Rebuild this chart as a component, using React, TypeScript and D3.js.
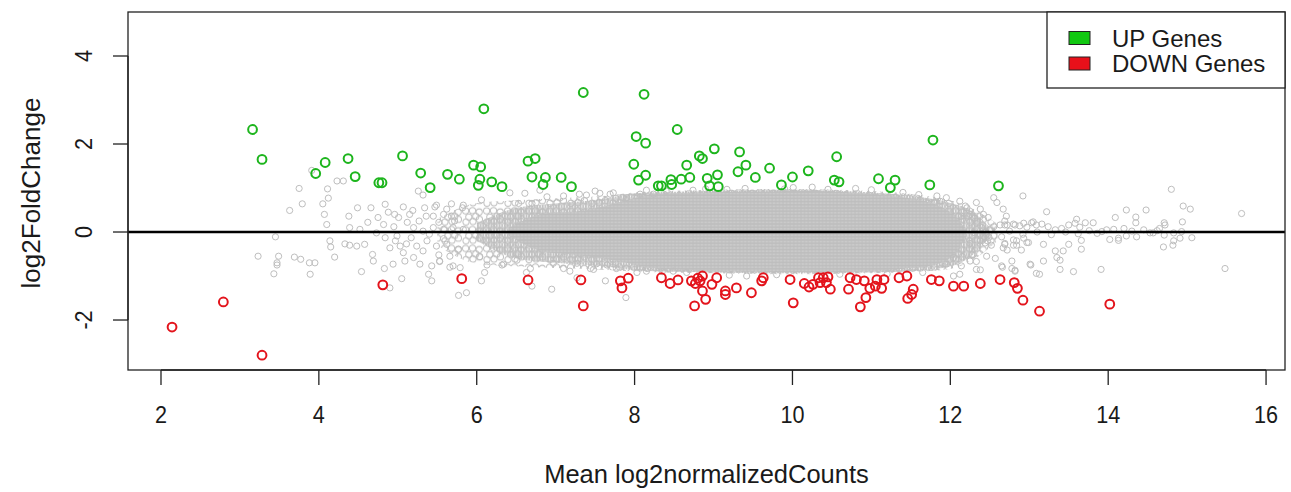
import React from "react";
import * as d3 from "d3";

const W = 1291;
const H = 492;

const xTicks = [2, 4, 6, 8, 10, 12, 14, 16];
const yTicks = [-2, 0, 2, 4];
const legendLabels = ["UP Genes", "DOWN Genes"];

const upPoints: [number, number][] = [
  [3.16, 2.33], [3.28, 1.65], [3.96, 1.33], [4.08, 1.58], [4.37, 1.67], [4.46, 1.26], [4.76, 1.12], [4.8, 1.12],
  [5.06, 1.73], [5.29, 1.34], [5.41, 1.01], [5.63, 1.31], [5.78, 1.2], [5.96, 1.52], [6.05, 1.48], [6.04, 1.2],
  [6.02, 1.06], [6.09, 2.8], [6.19, 1.14], [6.32, 1.03], [6.65, 1.61], [6.74, 1.67], [6.7, 1.25], [6.87, 1.24],
  [6.84, 1.08], [7.07, 1.24], [7.2, 1.03], [7.35, 3.17], [7.99, 1.54], [8.02, 2.17], [8.12, 3.13], [8.14, 2.02],
  [8.14, 1.29], [8.05, 1.18], [8.3, 1.05], [8.34, 1.05], [8.47, 1.08], [8.46, 1.19], [8.54, 2.33], [8.59, 1.2],
  [8.66, 1.52], [8.7, 1.24], [8.82, 1.73], [8.86, 1.67], [8.92, 1.22], [9.05, 1.3], [8.95, 1.05], [9.06, 1.03],
  [9.01, 1.89], [9.31, 1.37], [9.33, 1.82], [9.41, 1.52], [9.53, 1.24], [9.71, 1.45], [9.86, 1.07], [10.0, 1.25],
  [10.2, 1.39], [10.56, 1.71], [10.53, 1.18], [10.59, 1.14], [11.09, 1.21], [11.3, 1.18], [11.24, 1.01],
  [11.78, 2.09], [11.74, 1.07], [12.61, 1.05],
];

const downPoints: [number, number][] = [
  [2.14, -2.16], [2.79, -1.59], [3.28, -2.8], [4.81, -1.2], [5.81, -1.06], [6.65, -1.09], [7.32, -1.09],
  [7.35, -1.68], [7.82, -1.11], [7.92, -1.05], [7.84, -1.27], [8.34, -1.04], [8.45, -1.17], [8.55, -1.09],
  [8.72, -1.11], [8.8, -1.05], [8.77, -1.17], [8.86, -1.0], [8.83, -1.11], [9.04, -1.04], [8.98, -1.19],
  [8.86, -1.34], [8.9, -1.53], [8.76, -1.68], [9.15, -1.34], [9.15, -1.42], [9.29, -1.27], [9.48, -1.38],
  [9.63, -1.04], [9.61, -1.11], [9.97, -1.08], [10.01, -1.61], [10.15, -1.17], [10.21, -1.25], [10.26, -1.19],
  [10.33, -1.04], [10.39, -1.04], [10.45, -1.02], [10.43, -1.15], [10.48, -1.3], [10.35, -1.15], [10.71, -1.3],
  [10.73, -1.04], [10.81, -1.08], [10.91, -1.11], [10.86, -1.7], [10.93, -1.49], [10.98, -1.28], [11.05, -1.23],
  [11.07, -1.08], [11.16, -1.08], [11.13, -1.28], [11.35, -1.04], [11.45, -1.0], [11.53, -1.3], [11.51, -1.42],
  [11.46, -1.51], [11.76, -1.08], [11.86, -1.11], [12.04, -1.23], [12.17, -1.23], [12.38, -1.17], [12.63, -1.08],
  [12.81, -1.15], [12.85, -1.28], [12.92, -1.55], [13.13, -1.8], [14.02, -1.64],
];

const grayLeft: [number, number][] = [
  [3.75, 0.99], [4.11, 0.98], [4.23, 1.16], [4.31, 1.16], [3.91, 1.4], [3.63, 0.49], [3.79, 0.64], [4.05, 0.64],
  [4.12, 0.77], [4.07, 0.4], [4.38, 0.36], [4.49, 0.55], [4.66, 0.55], [4.84, 0.63], [4.1, 0.17], [3.45, -0.11],
  [3.23, -0.55], [3.49, -0.55], [3.47, -0.7], [3.47, -0.75], [3.43, -0.95], [3.69, -0.57], [3.77, -0.62],
  [3.88, -0.7], [3.95, -0.7], [3.89, -0.96], [4.14, -0.2], [4.15, -0.34], [4.33, -0.27], [4.39, -0.3],
  [4.2, -0.57], [4.48, -0.32], [4.58, -0.28], [4.68, -0.51], [4.69, -0.66], [4.54, -0.9], [4.83, -0.83],
  [4.94, -0.73], [5.05, -1.06], [4.9, -1.27], [5.77, -1.44], [5.26, 0.93], [5.32, 0.84], [4.39, 0.1],
  [4.52, 0.06], [4.75, 0.33], [4.82, 0.17], [4.96, 0.4], [5.01, 0.33], [5.07, 0.57], [5.19, 0.49], [5.34, 0.55],
  [5.47, 0.57], [5.36, 0.36], [5.45, 0.36], [5.58, 0.4], [5.68, 0.36], [5.82, 0.55], [4.73, -0.02], [4.84, -0.13],
  [4.99, -0.09], [4.9, -0.36], [5.03, -0.32], [5.11, -0.27], [5.24, -0.32], [5.37, -0.2], [5.07, -0.47],
  [5.2, -0.58], [5.32, -0.43], [5.49, -0.32], [5.62, -0.28], [5.77, -0.39], [5.28, -0.73], [5.43, -0.77],
  [5.53, -0.66], [5.39, -0.96], [5.43, -1.11], [5.09, -0.66], [5.7, -0.77], [5.2, 0.1], [5.32, 0.02],
  [5.45, 0.1], [5.58, 0.06], [5.7, 0.1], [5.83, 0.06], [4.62, 0.22], [4.95, 0.12], [5.12, 0.22], [5.27, 0.25],
  [5.52, 0.22], [4.97, -0.2], [5.17, -0.13], [5.58, -0.15], [5.72, 0.25], [5.52, -0.52], [5.66, -0.55],
  [5.4, -0.05], [5.15, 0.4], [5.62, 0.52], [4.88, 0.45],
];

const grayMid: [number, number][] = [
  [6.42, 0.89], [6.61, 0.88], [6.8, 0.95], [6.89, 0.8], [7.1, 0.82], [7.5, 0.93], [7.73, 0.89], [7.9, 0.78],
  [8.07, 0.86], [8.24, 0.86], [8.74, 0.95], [9.17, 0.97], [10.01, 1.01], [6.06, 0.73], [5.49, 0.61], [5.68, 0.64],
  [5.83, 0.61], [6.53, 0.65], [6.7, 0.65], [7.3, 0.86], [7.39, 0.84], [7.56, 0.88], [7.69, 0.86], [8.15, 0.95],
  [6.1, -0.92], [6.06, -1.11], [6.34, -0.73], [6.63, -0.92], [6.7, -1.23], [6.95, -1.3], [7.18, -0.89],
  [7.27, -1.04], [7.48, -0.85], [7.52, -0.72], [7.63, -1.11], [7.89, -1.49], [8.03, -0.92], [8.15, -0.89],
  [8.49, -0.89], [8.66, -0.92], [9.42, -1.0], [5.87, -1.38], [5.79, -0.81], [5.53, -0.67], [5.66, -0.8],
  [6.04, -0.56], [6.13, -0.75], [6.32, -0.75], [6.51, -0.64], [6.68, -0.83], [6.97, -0.71], [7.1, -0.83],
  [7.27, -0.71], [7.44, -0.83], [7.65, -0.75], [7.77, -0.83], [9.9, 0.98], [10.25, 1.02], [10.45, 0.97],
  [10.8, 0.99], [11.0, 0.96], [11.4, 0.9], [11.6, 0.85], [8.9, 0.98], [9.4, 0.99], [8.4, 0.93], [9.2, -0.98],
  [9.8, -0.97], [10.6, -0.96], [11.2, -0.95], [11.65, -0.92], [8.35, -0.9],
];

const grayRight: [number, number][] = [
  [12.92, 0.82], [14.8, 0.97], [15.69, 0.42], [15.48, -0.83], [14.95, 0.59], [15.04, 0.52], [14.94, 0.23],
  [15.06, -0.13], [14.91, -0.14], [14.83, -0.2], [14.82, -0.3], [14.7, -0.34], [14.71, 0.21], [14.71, -0.07],
  [14.57, -0.02], [14.48, 0.5], [14.35, 0.34], [14.35, 0.21], [14.23, 0.5], [14.09, 0.33], [13.91, -0.85],
  [13.56, -0.9], [13.39, -0.85], [13.39, -0.64], [13.18, -0.66], [13.13, -0.96], [13.02, -0.75], [12.82, -0.87],
  [12.78, -0.66], [12.66, -0.8], [13.22, 0.46], [13.6, 0.29], [13.66, -0.39], [13.43, -0.43], [13.33, -0.43],
  [13.18, -0.28], [12.99, -0.24], [12.9, -0.41], [12.8, -0.3], [12.69, -0.28], [13.5, -0.28], [13.66, -0.19],
  [14.02, -0.17], [14.13, -0.19], [12.69, 0.16], [12.8, 0.18], [12.88, 0.14], [12.97, 0.11], [13.03, 0.21],
  [13.09, 0.16], [13.16, 0.18], [13.24, 0.12], [13.33, 0.05], [13.41, 0.08], [13.5, 0.16], [13.58, 0.2],
  [13.64, 0.11], [13.71, 0.21], [13.81, 0.21], [13.86, -0.03], [13.92, 0.01], [13.98, 0.05], [14.07, 0.06],
  [14.13, -0.14], [14.23, -0.09], [14.36, -0.11], [14.45, 0.05], [14.53, -0.02], [14.62, 0.03], [14.72, 0.16],
  [14.83, -0.02], [14.93, 0.01], [12.75, 0.02], [12.92, -0.05], [13.1, 0.0], [13.28, -0.06], [13.46, 0.0],
  [13.62, -0.04], [13.76, 0.03], [14.2, 0.08], [14.3, 0.02], [14.65, 0.08], [12.55, 0.78], [12.59, 0.67],
  [12.67, 0.52], [12.71, 0.36], [12.69, 0.25], [12.33, 0.67], [12.38, 0.52], [12.42, 0.4], [12.12, 0.7],
  [12.19, 0.59], [12.23, 0.36], [12.14, 0.36], [11.95, 0.78], [11.83, 0.82], [11.87, 0.7], [12.46, -0.55],
  [12.65, -0.77], [12.82, -0.89], [13.01, -0.73], [13.35, -0.58], [12.33, -0.85], [12.25, -0.66], [12.14, -0.77],
  [12.04, -0.58], [11.95, -0.73], [12.12, -0.96], [12.04, -1.0], [12.67, -0.36], [12.84, -0.2], [12.97, -0.24],
  [12.38, -0.2], [12.46, -0.05], [12.31, -0.02], [12.63, 0.16], [12.72, 0.16], [12.82, 0.16], [12.93, 0.2],
  [13.05, 0.23], [12.8, -0.18], [12.84, -0.3], [12.93, -0.14], [12.65, -0.11], [12.69, -0.26], [12.72, -0.41],
  [12.57, -0.6], [12.78, -0.83], [13.09, -0.94], [12.25, -0.26], [12.27, -0.52], [12.33, -0.67], [12.38, -0.86],
  [12.21, 0.55], [12.25, 0.4], [12.31, 0.31], [12.33, 0.2], [12.48, 0.33], [12.4, 0.1], [12.45, 0.0],
  [12.42, -0.1], [12.47, -0.2], [12.5, 0.05], [12.44, -0.25], [12.38, -0.05], [12.49, -0.12], [12.52, -0.3],
  [12.55, 0.12],
];

// envelopes of the dense gray cloud: [x, low, high]
const sparseBand: [number, number, number][] = [
  [5.5, -0.3, 0.3], [6.0, -0.72, 0.66], [6.5, -0.78, 0.72], [7.0, -0.82, 0.77], [7.6, -0.86, 0.82],
  [8.0, -0.9, 0.9], [9.0, -0.94, 0.96], [10.0, -0.96, 0.98], [11.0, -0.94, 0.93], [11.6, -0.9, 0.84],
  [12.0, -0.84, 0.72], [12.3, -0.62, 0.52], [12.6, -0.2, 0.18],
];
const mediumBand: [number, number, number][] = [
  [6.0, -0.2, 0.2], [6.5, -0.6, 0.55], [7.0, -0.7, 0.65], [7.6, -0.78, 0.75], [8.0, -0.87, 0.88],
  [9.0, -0.92, 0.94], [10.0, -0.94, 0.96], [11.0, -0.92, 0.9], [11.6, -0.88, 0.8], [12.0, -0.78, 0.66],
  [12.3, -0.5, 0.45], [12.5, -0.12, 0.1],
];
const denseBand: [number, number, number][] = [
  [6.4, -0.08, 0.08], [6.8, -0.42, 0.4], [7.4, -0.55, 0.5], [7.9, -0.7, 0.72], [8.2, -0.82, 0.85],
  [8.8, -0.87, 0.9], [9.5, -0.9, 0.92], [10.3, -0.91, 0.93], [11.0, -0.88, 0.86], [11.5, -0.82, 0.76],
  [11.85, -0.72, 0.6], [12.05, -0.5, 0.38], [12.2, -0.1, 0.05],
];

const FONT = "'Liberation Sans', Arial, Helvetica, sans-serif";
const GRAY = "#bebebe";
const GREEN = "#1db51d";
const RED = "#e3141c";

// texture tiles (pixel offsets inside a repeating pattern cell)
const sparseTile = [
  [3.6, 4], [10.5, 3.8], [17.2, 5.2], [6.8, 10.2], [13.8, 9.6], [4, 15.2], [11, 14.6], [17.4, 12.6],
];

export default function App() {
  const left = 128, right = 1285, top = 12, bottom = 370;
  const x = d3.scaleLinear().domain([1.582, 16.24]).range([left, right]);
  const y = d3.scaleLinear().domain([-3.136, 5.0]).range([bottom, top]);

  const area = d3
    .area<[number, number, number]>()
    .x((d) => x(d[0]))
    .y0((d) => y(d[1]))
    .y1((d) => y(d[2]))
    .curve(d3.curveMonotoneX);

  const grays = [...grayLeft, ...grayMid, ...grayRight];
  const ring = (cx: number, cy: number, k: string) => (
    <circle key={k} cx={cx} cy={cy} r={3.1} fill="none" stroke={GRAY} strokeWidth={1} />
  );

  return (
    <svg
      width={W}
      height={H}
      style={{ position: "absolute", left: 0, top: 0, background: "#fff" }}
      fontFamily={FONT}
    >
      <defs>
        <pattern id="sparsePat" patternUnits="userSpaceOnUse" width={21} height={18.8}>
          {sparseTile.map(([cx, cy], i) => ring(cx, cy, "s" + i))}
        </pattern>
        <pattern id="mediumPat" patternUnits="userSpaceOnUse" width={5.4} height={4.8}>
          {[[0, 0], [5.4, 0], [0, 4.8], [5.4, 4.8], [2.7, 2.4]].map(([cx, cy], i) => ring(cx, cy, "m" + i))}
        </pattern>
        <pattern id="densePat" patternUnits="userSpaceOnUse" width={3.6} height={3.2}>
          <rect width={3.6} height={3.2} fill="#fff" />
          {[[0, 0], [3.6, 0], [0, 3.2], [3.6, 3.2], [1.8, 1.6]].map(([cx, cy], i) => ring(cx, cy, "d" + i))}
        </pattern>
        <clipPath id="plotClip">
          <rect x={left} y={top} width={right - left} height={bottom - top} />
        </clipPath>
      </defs>
      <rect x={0} y={0} width={W} height={H} fill="#fff" />

      <g clipPath="url(#plotClip)">
        <path d={area(sparseBand) || ""} fill="url(#sparsePat)" />
        <path d={area(mediumBand) || ""} fill="url(#mediumPat)" />
        <path d={area(denseBand) || ""} fill="url(#densePat)" />
        {grays.map((d, i) => ring(x(d[0]), y(d[1]), "g" + i))}
        <line x1={left} x2={right} y1={y(0)} y2={y(0)} stroke="#000" strokeWidth={2.4} />
        {upPoints.map((d, i) => (
          <circle key={"u" + i} cx={x(d[0])} cy={y(d[1])} r={4.4} fill="none" stroke={GREEN} strokeWidth={2} />
        ))}
        {downPoints.map((d, i) => (
          <circle key={"d" + i} cx={x(d[0])} cy={y(d[1])} r={4.4} fill="none" stroke={RED} strokeWidth={2} />
        ))}
      </g>

      <rect x={left} y={top} width={right - left} height={bottom - top} fill="none" stroke="#222" strokeWidth={1.3} />

      {/* x axis */}
      <line x1={x(2)} x2={x(16)} y1={bottom} y2={bottom} stroke="#222" strokeWidth={1.3} />
      {xTicks.map((t) => (
        <g key={"xt" + t}>
          <line x1={x(t)} x2={x(t)} y1={bottom} y2={bottom + 15} stroke="#222" strokeWidth={1.3} />
          <text transform={`translate(${x(t)},423) scale(0.9,1)`} textAnchor="middle" fontSize={24} fill="#1a1a1a">
            {t}
          </text>
        </g>
      ))}
      {/* y axis */}
      <line x1={left} x2={left} y1={y(-2)} y2={y(4)} stroke="#222" strokeWidth={1.3} />
      {yTicks.map((t) => (
        <g key={"yt" + t}>
          <line x1={left - 15} x2={left} y1={y(t)} y2={y(t)} stroke="#222" strokeWidth={1.3} />
          <text transform={`translate(92,${y(t)}) rotate(-90) scale(0.9,1)`} textAnchor="middle" fontSize={24} fill="#1a1a1a">
            {t}
          </text>
        </g>
      ))}

      <text x={(left + right) / 2} y={483} textAnchor="middle" fontSize={25.5} fill="#1a1a1a">
        Mean log2normalizedCounts
      </text>
      <text transform={`translate(40,${(top + bottom) / 2 + 2}) rotate(-90)`} textAnchor="middle" fontSize={26} fill="#1a1a1a">
        log2FoldChange
      </text>

      {/* legend */}
      <rect x={1047} y={top} width={right - 1047} height={76} fill="#fff" stroke="#222" strokeWidth={1.3} />
      {legendLabels.map((lab, i) => (
        <g key={lab}>
          <rect x={1069} y={31.5 + i * 25.5} width={21} height={13} fill={i === 0 ? "#11c811" : "#e8101a"} stroke="#222" strokeWidth={1} />
          <text x={1112} y={46.5 + i * 25.5} fontSize={24} fill="#1a1a1a">
            {lab}
          </text>
        </g>
      ))}
    </svg>
  );
}
